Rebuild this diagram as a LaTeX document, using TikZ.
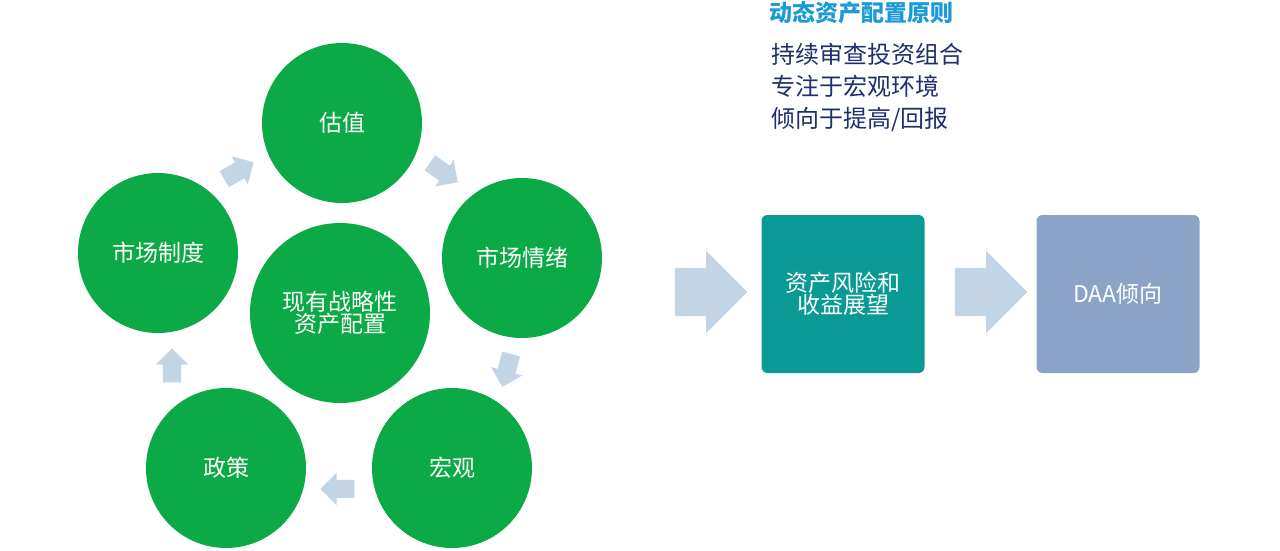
\documentclass[tikz,border=0pt]{standalone}
\usepackage{fontspec}
\setmainfont{Noto Sans CJK SC}
\usetikzlibrary{shapes.arrows}
\definecolor{leaf}{HTML}{0BAA46}
\definecolor{pale}{HTML}{C3D5E5}
\definecolor{teal}{HTML}{0A9A96}
\definecolor{slate}{HTML}{8AA3C6}
\definecolor{titleblue}{HTML}{1A9AD6}
\definecolor{navy}{HTML}{1F2F6E}
\begin{document}
\begin{tikzpicture}[x=1pt,y=1pt,
		ball/.style={circle,fill=leaf,text=white,minimum size=160,inner sep=0,font=\fontsize{23}{26}\selectfont,align=center},
		chev/.style={single arrow,fill=pale,minimum height=34,inner sep=9,single arrow head extend=7},
		bigchev/.style={single arrow,fill=pale,minimum height=68,inner sep=24,single arrow head extend=17},
		panel/.style={rounded corners=6,minimum width=163,minimum height=158,text=white,font=\fontsize{23}{26}\selectfont,align=center}]
		\useasboundingbox (0,0) rectangle (1280,-550);
		\node[ball,minimum size=180] (core) at (340,-313) {现有战略性\\[-4pt]资产配置};
		\node[ball] (val) at (342,-123) {估值};
		\node[ball] (inst) at (158,-253) {市场制度};
		\node[ball] (mood) at (522,-258) {市场情绪};
		\node[ball] (pol) at (226,-468) {政策};
		\node[ball] (macro) at (452,-468) {宏观};

		\node[chev,rotate=30] (a1) at (235,-173) {};
		\node[chev,rotate=-35] (a2) at (440,-170) {};
		\node[chev,rotate=-105] (a3) at (508,-366) {};
		\node[chev,rotate=180] (a4) at (342,-489) {};
		\node[chev,rotate=90] (a5) at (172,-370) {};

		\node[panel,fill=teal] (view) at (843,-294) {资产风险和\\[-4pt]收益展望};
		\node[panel,fill=slate] (tilt) at (1118,-294) {DAA倾向};
		\node[bigchev] (b1) at (699,-292) {};
		\node[bigchev] (b2) at (979,-292) {};

		\node[text=titleblue,font=\bfseries\fontsize{23}{26}\selectfont,anchor=west] (title) at (766,-13) {动态资产配置原则};
		\node[text=navy,font=\fontsize{24}{32}\selectfont,anchor=north west,align=left] (rules) at (768,-40) {持续审查投资组合\\专注于宏观环境\\倾向于提高/回报};
\end{tikzpicture}
\end{document}
